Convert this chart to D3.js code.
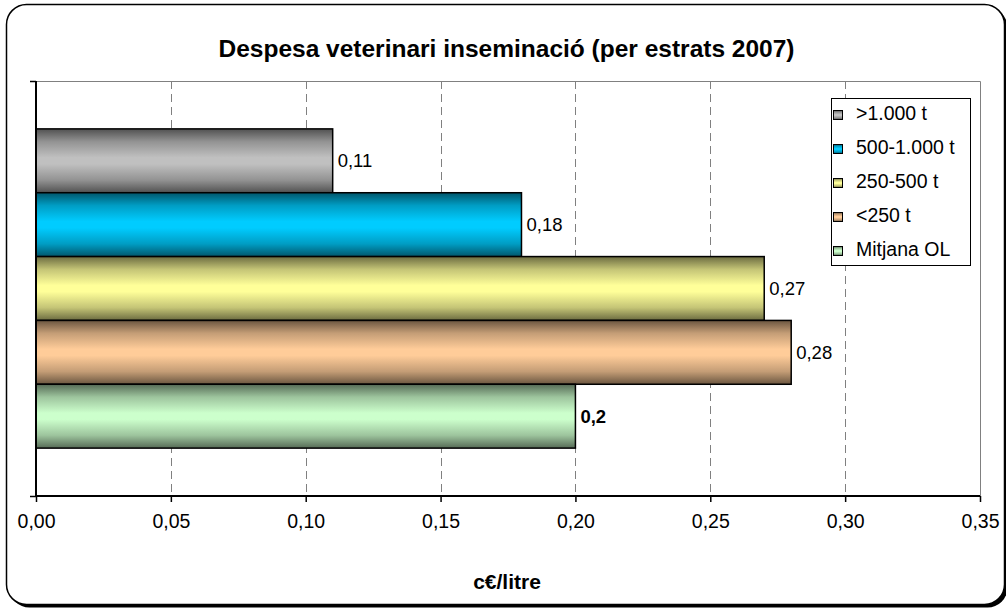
<!DOCTYPE html>
<html>
<head>
<meta charset="utf-8">
<script src="https://cdn.jsdelivr.net/npm/d3@7"></script>
<style>
  html, body { margin: 0; padding: 0; background: #fff; }
  svg { display: block; font-family: "Liberation Sans", Arial, sans-serif; }
</style>
</head>
<body>
<svg id="chart" width="1006" height="608"></svg>
<script>
const titleText = "Despesa veterinari inseminació (per estrats 2007)";
const axisTitle = "c€/litre";
const categories = [">1.000 t", "500-1.000 t", "250-500 t", "<250 t", "Mitjana OL"];
const values = [0.11, 0.18, 0.27, 0.28, 0.2];
const valueLabels = ["0,11", "0,18", "0,27", "0,28", "0,2"];
const centerColors = ["#c0c0c0", "#00ccff", "#ffff99", "#ffcc99", "#ccffcc"];
const xTicks = [0, 0.05, 0.10, 0.15, 0.20, 0.25, 0.30, 0.35];

const svg = d3.select("#chart");
const plot = {x0: 36, x1: 980, y0: 81, y1: 496};

// outer rounded frame with shadow
svg.append("rect").attr("x", 9.5).attr("y", 7.5).attr("width", 998).attr("height", 600)
  .attr("rx", 20).attr("fill", "#000");
svg.append("rect").attr("x", 6.5).attr("y", 4.5).attr("width", 998).attr("height", 600)
  .attr("rx", 20).attr("fill", "#fff").attr("stroke", "#000").attr("stroke-width", 1.5);

// gradients
const defs = svg.append("defs");
centerColors.forEach((c, i) => {
  const base = d3.rgb(c);
  const edge = d3.rgb(base.r * 0.42, base.g * 0.42, base.b * 0.42);
  const mid = d3.interpolateRgb(edge, c)(0.6);
  const g = defs.append("linearGradient").attr("id", "g" + i)
    .attr("x1", 0).attr("y1", 0).attr("x2", 0).attr("y2", 1);
  [[0, edge], [0.2, mid], [0.45, c], [0.55, c], [0.8, mid], [1, edge]].forEach(([o, col]) => {
    g.append("stop").attr("offset", o).attr("stop-color", col);
  });
});

const x = d3.scaleLinear().domain([0, 0.35]).range([plot.x0, plot.x1]);
const y = d3.scaleBand().domain(categories).range([plot.y0, plot.y1]).paddingOuter(0.75).paddingInner(0);
const locale = d3.formatLocale({decimal: ",", thousands: ".", grouping: [3], currency: ["", "€"]});
const fmt = locale.format(".2f");

// gridlines
svg.append("g").selectAll("line").data(xTicks.slice(1, -1)).join("line")
  .attr("x1", d => Math.round(x(d)) + 0.5).attr("x2", d => Math.round(x(d)) + 0.5)
  .attr("y1", plot.y0).attr("y2", plot.y1)
  .attr("stroke", "#808080").attr("stroke-width", 1).attr("stroke-dasharray", "8,5");

// plot border top & right (gray)
svg.append("path")
  .attr("d", `M${plot.x0},${plot.y0 + 0.5}H${plot.x1 + 0.5}V${plot.y1}`)
  .attr("fill", "none").attr("stroke", "#808080").attr("stroke-width", 1);

// bars
svg.append("g").selectAll("rect").data(values).join("rect")
  .attr("x", x(0))
  .attr("y", (d, i) => y(categories[i]))
  .attr("width", d => x(d) - x(0))
  .attr("height", y.bandwidth())
  .attr("fill", (d, i) => `url(#g${i})`)
  .attr("stroke", "#000").attr("stroke-width", 1.5);

// value labels
svg.append("g").selectAll("text").data(values).join("text")
  .attr("x", d => x(d) + 5)
  .attr("y", (d, i) => y(categories[i]) + y.bandwidth() / 2)
  .attr("dy", "0.36em")
  .attr("font-size", "18.5px")
  .attr("font-weight", (d, i) => i === values.length - 1 ? "bold" : "normal")
  .attr("fill", "#000")
  .text((d, i) => valueLabels[i]);

// x axis
const xAxis = d3.axisBottom(x).tickValues(xTicks).tickFormat(fmt).tickSize(6).tickPadding(12);
const gx = svg.append("g").attr("transform", `translate(0,${plot.y1})`).call(xAxis);
gx.select(".domain").attr("stroke", "#000").attr("stroke-width", 2).attr("d", `M${plot.x0},0H${plot.x1}`);
gx.selectAll(".tick line").attr("stroke", "#000").attr("stroke-width", 1.5);
gx.selectAll(".tick text").attr("font-size", "19.5px").attr("font-family", "'Liberation Sans', Arial, sans-serif").attr("fill", "#000");

// y axis (category boundaries)
const yEdge = d3.scaleLinear().domain([0, 1]).range([plot.y0, plot.y1]);
const yAxis = d3.axisLeft(yEdge).tickValues([0, 1]).tickFormat("").tickSize(6);
const gy = svg.append("g").attr("transform", `translate(${plot.x0},0)`).call(yAxis);
gy.select(".domain").attr("stroke", "#000").attr("stroke-width", 2).attr("d", `M0,${plot.y0}V${plot.y1}`);
gy.selectAll(".tick line").attr("stroke", "#000").attr("stroke-width", 1.5);

// title
svg.append("text").attr("x", 506.5).attr("y", 57).attr("text-anchor", "middle")
  .attr("font-size", "24.5px").attr("font-weight", "bold").text(titleText);

// axis title
svg.append("text").attr("x", 507).attr("y", 589).attr("text-anchor", "middle")
  .attr("font-size", "21px").attr("font-weight", "bold").text(axisTitle);

// legend
const lg = svg.append("g");
lg.append("rect").attr("x", 831.5).attr("y", 98.5).attr("width", 139).attr("height", 167)
  .attr("fill", "#fff").attr("stroke", "#000").attr("stroke-width", 1);
const baselines = [120, 154, 188, 222, 256];
const items = lg.selectAll("g.item").data(categories).join("g").attr("class", "item");
items.append("rect")
  .attr("x", 833.5).attr("y", (d, i) => baselines[i] - 9.5)
  .attr("width", 9).attr("height", 9)
  .attr("fill", (d, i) => `url(#g${i})`).attr("stroke", "#000").attr("stroke-width", 1);
items.append("text")
  .attr("x", 856).attr("y", (d, i) => baselines[i])
  .attr("font-size", "19.5px").attr("fill", "#000")
  .text(d => d);
</script>
</body>
</html>
